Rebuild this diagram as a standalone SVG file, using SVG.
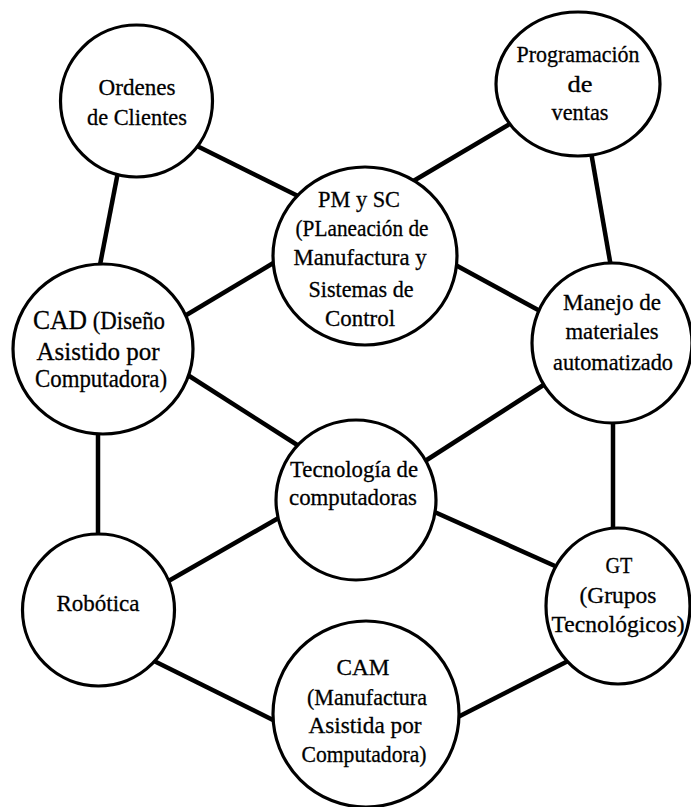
<svg xmlns="http://www.w3.org/2000/svg" width="691" height="807" viewBox="0 0 691 807">
  <style>
    .link { stroke: #000; stroke-width: 4.5; stroke-linecap: butt; fill: none; }
    .node { fill: #fff; stroke: #000; stroke-width: 3.2; }
    .lbl { font-family: 'Liberation Serif', 'Times New Roman', serif; font-size: 24px; fill: #000; text-anchor: middle; stroke: #000; stroke-width: 0.3; }
    .big { font-size: 25px; }
  </style>
  <rect width="691" height="807" fill="#fff"/>

  <!-- connectors -->
  <g id="connectors">
    <line class="link" x1="195" y1="145" x2="302" y2="198"/>
    <line class="link" x1="118" y1="172" x2="99" y2="270"/>
    <line class="link" x1="513" y1="122" x2="410" y2="183"/>
    <line class="link" x1="591" y1="152" x2="611" y2="267"/>
    <line class="link" x1="178" y1="320" x2="280" y2="259"/>
    <line class="link" x1="450" y1="262" x2="540" y2="311"/>
    <line class="link" x1="183" y1="372" x2="302" y2="448"/>
    <line class="link" x1="545" y1="384" x2="422" y2="463"/>
    <line class="link" x1="98" y1="428" x2="98" y2="540"/>
    <line class="link" x1="165" y1="583" x2="282" y2="516"/>
    <line class="link" x1="430" y1="510" x2="555" y2="566"/>
    <line class="link" x1="613" y1="418" x2="613" y2="533"/>
    <line class="link" x1="150" y1="659" x2="277" y2="722"/>
    <line class="link" x1="572" y1="659" x2="454" y2="719"/>
  </g>

  <!-- Ordenes de Clientes -->
  <g id="ordenes">
    <circle class="node" cx="136.5" cy="101" r="76"/>
    <text class="lbl" x="137" y="95" textLength="77" lengthAdjust="spacingAndGlyphs">Ordenes</text>
    <text class="lbl" x="137" y="125" textLength="100" lengthAdjust="spacingAndGlyphs">de Clientes</text>
  </g>

  <!-- Programación de ventas -->
  <g id="programacion">
    <ellipse class="node" cx="578" cy="84" rx="82" ry="72"/>
    <text class="lbl" x="578" y="62" textLength="123" lengthAdjust="spacingAndGlyphs">Programación</text>
    <text class="lbl" x="580" y="92" textLength="25" lengthAdjust="spacingAndGlyphs">de</text>
    <text class="lbl" x="580" y="120" textLength="57" lengthAdjust="spacingAndGlyphs">ventas</text>
  </g>

  <!-- PM y SC -->
  <g id="pmsc">
    <ellipse class="node" cx="365" cy="256" rx="92" ry="89"/>
    <text class="lbl" x="359" y="207" textLength="82" lengthAdjust="spacingAndGlyphs">PM y SC</text>
    <text class="lbl" x="362" y="236" textLength="133" lengthAdjust="spacingAndGlyphs">(PLaneación de</text>
    <text class="lbl" x="360" y="265" textLength="133" lengthAdjust="spacingAndGlyphs">Manufactura y</text>
    <text class="lbl" x="361" y="297" textLength="105" lengthAdjust="spacingAndGlyphs">Sistemas de</text>
    <text class="lbl" x="360" y="326" textLength="70" lengthAdjust="spacingAndGlyphs">Control</text>
  </g>

  <!-- CAD -->
  <g id="cad">
    <ellipse class="node" cx="103" cy="349" rx="90" ry="85"/>
    <text class="lbl big" x="99" y="329" textLength="132" lengthAdjust="spacingAndGlyphs"><tspan font-size="28">CAD</tspan> (Diseño</text>
    <text class="lbl big" x="98" y="360" textLength="123" lengthAdjust="spacingAndGlyphs">Asistido por</text>
    <text class="lbl big" x="101" y="387" textLength="132" lengthAdjust="spacingAndGlyphs">Computadora)</text>
  </g>

  <!-- Manejo de materiales automatizado -->
  <g id="manejo">
    <circle class="node" cx="612" cy="343" r="80"/>
    <text class="lbl" x="612" y="310" textLength="98" lengthAdjust="spacingAndGlyphs">Manejo de</text>
    <text class="lbl" x="612" y="339" textLength="93" lengthAdjust="spacingAndGlyphs">materiales</text>
    <text class="lbl" x="613" y="370" textLength="120" lengthAdjust="spacingAndGlyphs">automatizado</text>
  </g>

  <!-- Tecnología de computadoras -->
  <g id="tecnologia">
    <circle class="node" cx="356" cy="500" r="80"/>
    <text class="lbl" x="354" y="477" textLength="128" lengthAdjust="spacingAndGlyphs">Tecnología de</text>
    <text class="lbl" x="353" y="505" textLength="128" lengthAdjust="spacingAndGlyphs">computadoras</text>
  </g>

  <!-- Robótica -->
  <g id="robotica">
    <circle class="node" cx="98.5" cy="610" r="76"/>
    <text class="lbl" x="98" y="611" textLength="83" lengthAdjust="spacingAndGlyphs">Robótica</text>
  </g>

  <!-- GT -->
  <g id="gt">
    <ellipse class="node" cx="618" cy="606" rx="72" ry="78"/>
    <text class="lbl" x="619" y="573" textLength="27" lengthAdjust="spacingAndGlyphs">GT</text>
    <text class="lbl" x="618" y="603" textLength="77" lengthAdjust="spacingAndGlyphs">(Grupos</text>
    <text class="lbl" x="618" y="632" textLength="133" lengthAdjust="spacingAndGlyphs">Tecnológicos)</text>
  </g>

  <!-- CAM -->
  <g id="cam">
    <circle class="node" cx="366" cy="714" r="93"/>
    <text class="lbl" x="363" y="675" textLength="53" lengthAdjust="spacingAndGlyphs">CAM</text>
    <text class="lbl" x="367" y="705" textLength="120" lengthAdjust="spacingAndGlyphs">(Manufactura</text>
    <text class="lbl" x="365" y="733" textLength="113" lengthAdjust="spacingAndGlyphs">Asistida por</text>
    <text class="lbl" x="364" y="762" textLength="125" lengthAdjust="spacingAndGlyphs">Computadora)</text>
  </g>
</svg>
